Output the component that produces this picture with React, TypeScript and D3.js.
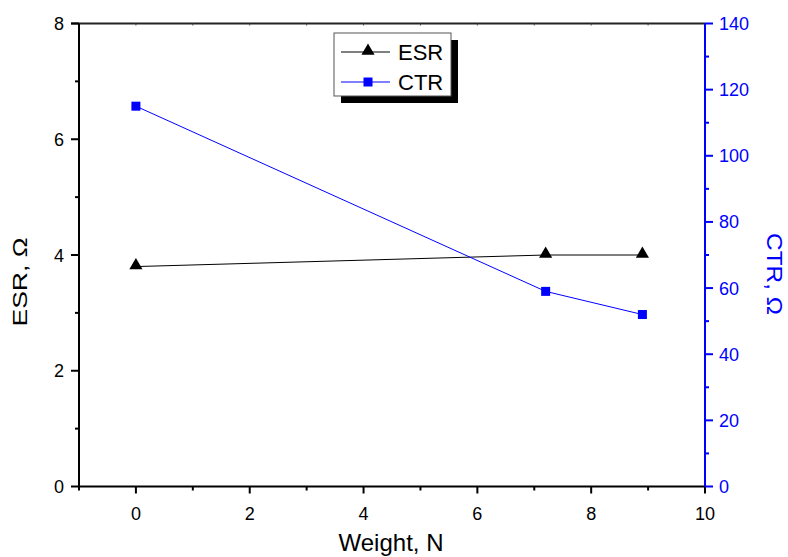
import React, { useEffect, useRef } from 'react';
import * as d3 from 'd3';

const weights = [0, 7.2, 8.9];
const esrValues = [3.8, 4.0, 4.0];
const ctrValues = [115, 59, 52];
const xTicks = [0, 2, 4, 6, 8, 10];
const esrTicks = [0, 2, 4, 6, 8];
const ctrTicks = [0, 20, 40, 60, 80, 100, 120, 140];

const BLUE = '#0000ff';
const FONT = 'Liberation Sans, Arial, sans-serif';

export default function App() {
  const ref = useRef<SVGSVGElement>(null);

  useEffect(() => {
    const margin = { top: 23.5, right: 83, bottom: 70.5, left: 79 };
    const W = 788;
    const H = 557;
    const width = W - margin.left - margin.right;
    const height = H - margin.top - margin.bottom;

    const root = d3.select(ref.current);
    root.selectAll('*').remove();
    const svg = root.append('g').attr('transform', `translate(${margin.left},${margin.top})`);

    const x = d3.scaleLinear().domain([-1, 10]).range([0, width]);
    const yL = d3.scaleLinear().domain([0, 8]).range([height, 0]);
    const yR = d3.scaleLinear().domain([0, 140]).range([height, 0]);

    // minor ticks
    const xMinor = d3.range(-1, 10.01, 1).filter((v) => v % 2 !== 0);
    const yLMinor = d3.range(1, 8, 2);
    const yRMinor = d3.range(10, 140, 20);

    // bottom axis
    const bottom = svg.append('g').attr('transform', `translate(0,${height})`);
    bottom.append('line').attr('x1', 0).attr('x2', width).attr('stroke', '#000').attr('stroke-width', 2);
    bottom.selectAll('.maj').data(xTicks).enter().append('line')
      .attr('x1', (d) => x(d)).attr('x2', (d) => x(d)).attr('y1', 0).attr('y2', 7)
      .attr('stroke', '#000').attr('stroke-width', 2);
    bottom.selectAll('.min').data(xMinor).enter().append('line')
      .attr('x1', (d) => x(d)).attr('x2', (d) => x(d)).attr('y1', 0).attr('y2', 4)
      .attr('stroke', '#000').attr('stroke-width', 2);
    bottom.selectAll('text').data(xTicks).enter().append('text')
      .attr('x', (d) => x(d)).attr('y', 33.5).attr('text-anchor', 'middle')
      .attr('font-family', FONT).attr('font-size', 18).text((d) => d);

    // top axis
    const top = svg.append('g');
    top.append('line').attr('x1', -8).attr('x2', width).attr('stroke', '#222').attr('stroke-width', 2);
    top.selectAll('.t').data([...xTicks, ...xMinor]).enter().append('line')
      .attr('x1', (d) => x(d)).attr('x2', (d) => x(d)).attr('y1', 0).attr('y2', 2)
      .attr('stroke', '#444').attr('stroke-width', 1);

    // left axis
    const left = svg.append('g');
    left.append('line').attr('y1', 0).attr('y2', height).attr('stroke', '#000').attr('stroke-width', 2);
    left.selectAll('.maj').data(esrTicks).enter().append('line')
      .attr('x1', -8).attr('x2', 0).attr('y1', (d) => yL(d)).attr('y2', (d) => yL(d))
      .attr('stroke', '#000').attr('stroke-width', 2);
    left.selectAll('.min').data(yLMinor).enter().append('line')
      .attr('x1', -4).attr('x2', 0).attr('y1', (d) => yL(d)).attr('y2', (d) => yL(d))
      .attr('stroke', '#000').attr('stroke-width', 2);
    left.selectAll('text').data(esrTicks).enter().append('text')
      .attr('x', -15).attr('y', (d) => yL(d) + 6.5).attr('text-anchor', 'end')
      .attr('font-family', FONT).attr('font-size', 18).text((d) => d);

    // right axis
    const right = svg.append('g').attr('transform', `translate(${width},0)`);
    right.append('line').attr('y1', 0).attr('y2', height).attr('stroke', BLUE).attr('stroke-width', 2);
    right.selectAll('.maj').data(ctrTicks).enter().append('line')
      .attr('x1', 0).attr('x2', 8).attr('y1', (d) => yR(d)).attr('y2', (d) => yR(d))
      .attr('stroke', BLUE).attr('stroke-width', 2);
    right.selectAll('.min').data(yRMinor).enter().append('line')
      .attr('x1', 0).attr('x2', 4).attr('y1', (d) => yR(d)).attr('y2', (d) => yR(d))
      .attr('stroke', BLUE).attr('stroke-width', 2);
    right.selectAll('text').data(ctrTicks).enter().append('text')
      .attr('x', 14).attr('y', (d) => yR(d) + 6.5).attr('text-anchor', 'start')
      .attr('font-family', FONT).attr('font-size', 18).attr('fill', BLUE).text((d) => d);

    // axis titles
    root.append('text').attr('x', 391).attr('y', 551).attr('text-anchor', 'middle')
      .attr('font-family', FONT).attr('font-size', 24).text('Weight, N');
    root.append('text')
      .attr('transform', `translate(27,282) rotate(-90)`)
      .attr('text-anchor', 'middle').attr('font-family', FONT).attr('font-size', 21)
      .attr('textLength', 89).attr('lengthAdjust', 'spacingAndGlyphs').text('ESR, Ω');
    root.append('text')
      .attr('transform', `translate(767,274) rotate(90)`)
      .attr('text-anchor', 'middle').attr('font-family', FONT).attr('font-size', 22)
      .attr('textLength', 82).attr('lengthAdjust', 'spacingAndGlyphs')
      .attr('fill', BLUE).text('CTR, Ω');

    // series
    const esrData = weights.map((w, i) => [w, esrValues[i]] as [number, number]);
    const ctrData = weights.map((w, i) => [w, ctrValues[i]] as [number, number]);

    svg.append('path').datum(esrData)
      .attr('d', d3.line<[number, number]>().x((d) => x(d[0])).y((d) => yL(d[1])))
      .attr('fill', 'none').attr('stroke', '#000').attr('stroke-width', 1);
    svg.append('path').datum(ctrData)
      .attr('d', d3.line<[number, number]>().x((d) => x(d[0])).y((d) => yR(d[1])))
      .attr('fill', 'none').attr('stroke', BLUE).attr('stroke-width', 1);

    const tri = d3.symbol().type(d3.symbolTriangle).size(75);
    svg.selectAll('.esr').data(esrData).enter().append('path')
      .attr('d', tri).attr('transform', (d) => `translate(${x(d[0])},${yL(d[1]) - 1})`).attr('fill', '#000');
    svg.selectAll('.ctr').data(ctrData).enter().append('rect')
      .attr('x', (d) => x(d[0]) - 4.5).attr('y', (d) => yR(d[1]) - 4.5)
      .attr('width', 9).attr('height', 9).attr('fill', BLUE);

    // legend
    const lg = root.append('g').attr('transform', 'translate(334,33)');
    lg.append('rect').attr('x', 7).attr('y', 7).attr('width', 117).attr('height', 63).attr('fill', '#000');
    lg.append('rect').attr('x', 0).attr('y', 0).attr('width', 117).attr('height', 63)
      .attr('fill', '#fff').attr('stroke', '#555').attr('stroke-width', 1);
    const items = [
      { name: 'ESR', color: '#000', y: 19 },
      { name: 'CTR', color: BLUE, y: 49 },
    ];
    items.forEach((it) => {
      lg.append('line').attr('x1', 7).attr('x2', 56).attr('y1', it.y).attr('y2', it.y)
        .attr('stroke', it.color).attr('stroke-width', 1);
      if (it.name === 'ESR') {
        lg.append('path').attr('d', tri).attr('transform', `translate(34,${it.y - 1})`).attr('fill', '#000');
      } else {
        lg.append('rect').attr('x', 29.5).attr('y', it.y - 4.5).attr('width', 9).attr('height', 9).attr('fill', BLUE);
      }
      lg.append('text').attr('x', 64).attr('y', it.y + 8).attr('font-family', FONT)
        .attr('font-size', 22).attr('fill', '#000').text(it.name);
    });
  }, []);

  return (
    <svg ref={ref} width={788} height={557} style={{ position: 'absolute', left: 0, top: 0 }}></svg>
  );
}
